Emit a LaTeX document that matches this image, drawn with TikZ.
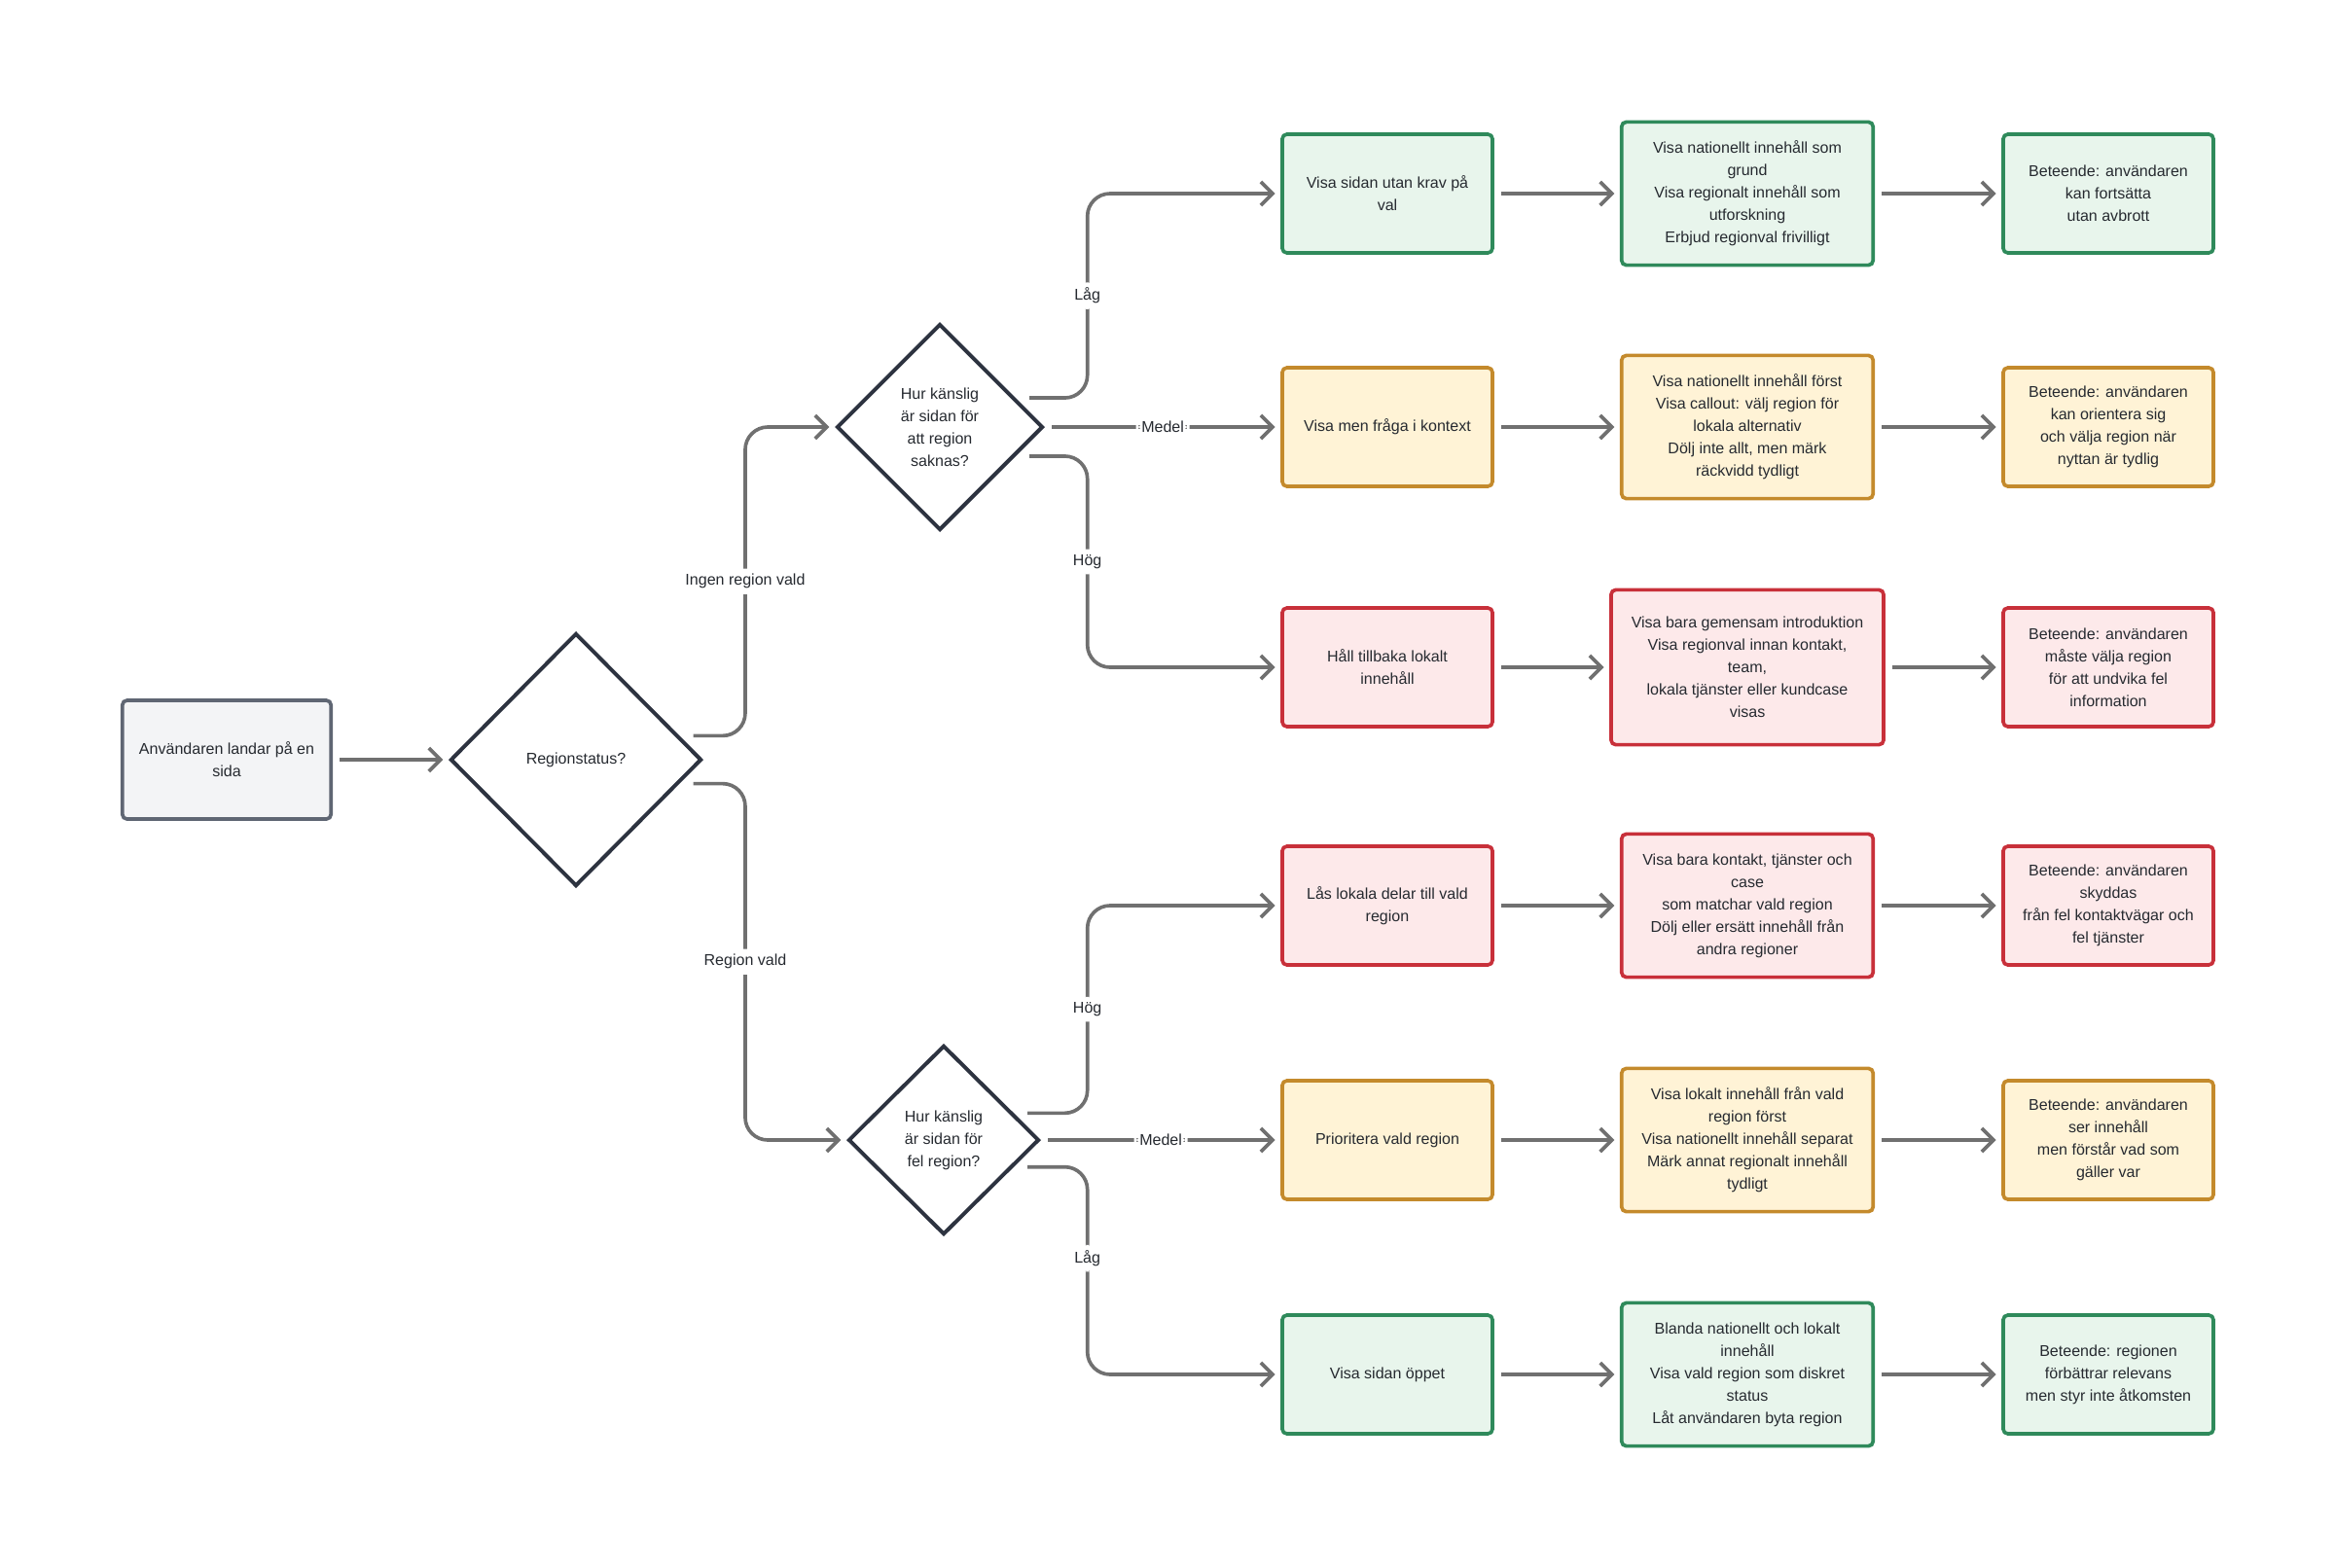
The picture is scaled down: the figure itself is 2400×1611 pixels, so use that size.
\documentclass[tikz,border=0pt]{standalone}
\usepackage{fontspec}
\setmainfont{Liberation Sans}
\usepackage{xcolor}
\usetikzlibrary{shapes.geometric,arrows.meta}

\definecolor{grnfill}{HTML}{E8F5EC}
\definecolor{grnline}{HTML}{2F8A5B}
\definecolor{ylwfill}{HTML}{FFF3D6}
\definecolor{ylwline}{HTML}{C48A2C}
\definecolor{redfill}{HTML}{FDE9EA}
\definecolor{redline}{HTML}{C8303A}
\definecolor{gryfill}{HTML}{F3F4F6}
\definecolor{gryline}{HTML}{5F6673}
\definecolor{dialine}{HTML}{2D3340}
\definecolor{linkgray}{HTML}{707070}
\definecolor{txt}{HTML}{262A30}

\begin{document}
\begin{tikzpicture}[x=0.0125cm, y=-0.0125cm,
    every node/.style={font=\fontsize{5.7}{8.15}\selectfont, text=txt},
    box/.style={rectangle, rounded corners=0.06cm, line width=1.3pt, align=center,
      minimum width=2.7cm, minimum height=1.525cm, inner sep=2pt},
    wide/.style={minimum width=3.23cm, minimum height=1.84cm},
    ok/.style={box, draw=grnline, fill=grnfill},
    mid/.style={box, draw=ylwline, fill=ylwfill},
    risk/.style={box, draw=redline, fill=redfill},
    dec/.style={diamond, draw=dialine, fill=white, line width=1.4pt, align=center, inner sep=0pt},
    link/.style={draw=linkgray, line width=1.3pt, rounded corners=0.29cm,
      -{Straight Barb[length=0.15cm, width=0.3cm]}, shorten <=2.5pt, shorten >=2pt},
    side/.style={link, shorten <=5pt},
    lbl/.style={fill=white, inner sep=2pt}]
  \useasboundingbox (0,0) rectangle (2400,1611);

  % start and first question
  \node[box, draw=gryline, fill=gryfill, minimum width=2.68cm] (start) at (233,781) {Användaren landar på en\\sida};
  \node[dec, minimum width=3.225cm, minimum height=3.25cm] (status) at (592,781) {Regionstatus?};
  \node[dec, minimum width=2.65cm, minimum height=2.65cm] (qnone) at (966,439) {Hur känslig\\är sidan för\\att region\\saknas?};
  \node[dec, minimum width=2.45cm, minimum height=2.43cm] (qwrong) at (970,1172) {Hur känslig\\är sidan för\\fel region?};

  % ingen region vald
  \node[ok] (a1) at (1426,199) {Visa sidan utan krav på\\val};
  \node[mid] (a2) at (1426,439) {Visa men fråga i kontext};
  \node[risk] (a3) at (1426,686) {Håll tillbaka lokalt\\innehåll};
  \node[ok, wide] (b1) at (1796,199) {Visa nationellt innehåll som\\grund\\Visa regionalt innehåll som\\utforskning\\Erbjud regionval frivilligt};
  \node[mid, wide] (b2) at (1796,439) {Visa nationellt innehåll först\\Visa callout: välj region för\\lokala alternativ\\Dölj inte allt, men märk\\räckvidd tydligt};
  \node[risk, wide, minimum width=3.5cm, minimum height=1.99cm] (b3) at (1796,686) {Visa bara gemensam introduktion\\Visa regionval innan kontakt,\\team,\\lokala tjänster eller kundcase\\visas};
  \node[ok] (c1) at (2167,199) {Beteende: användaren\\kan fortsätta\\utan avbrott};
  \node[mid] (c2) at (2167,439) {Beteende: användaren\\kan orientera sig\\och välja region när\\nyttan är tydlig};
  \node[risk] (c3) at (2167,686) {Beteende: användaren\\måste välja region\\för att undvika fel\\information};

  % region vald
  \node[risk] (a4) at (1426,931) {Lås lokala delar till vald\\region};
  \node[mid] (a5) at (1426,1172) {Prioritera vald region};
  \node[ok] (a6) at (1426,1413) {Visa sidan öppet};
  \node[risk, wide] (b4) at (1796,931) {Visa bara kontakt, tjänster och\\case\\som matchar vald region\\Dölj eller ersätt innehåll från\\andra regioner};
  \node[mid, wide] (b5) at (1796,1172) {Visa lokalt innehåll från vald\\region först\\Visa nationellt innehåll separat\\Märk annat regionalt innehåll\\tydligt};
  \node[ok, wide] (b6) at (1796,1413) {Blanda nationellt och lokalt\\innehåll\\Visa vald region som diskret\\status\\Låt användaren byta region};
  \node[risk] (c4) at (2167,931) {Beteende: användaren\\skyddas\\från fel kontaktvägar och\\fel tjänster};
  \node[mid] (c5) at (2167,1172) {Beteende: användaren\\ser innehåll\\men förstår vad som\\gäller var};
  \node[ok] (c6) at (2167,1413) {Beteende: regionen\\förbättrar relevans\\men styr inte åtkomsten};

  % connectors
  \draw[link] (start) -- (status);
  \draw[side] (status.13) -| node[lbl, pos=.75] (tnone) {Ingen region vald} ([xshift=-1.15cm]qnone.west) -- (qnone.west);
  \draw[side] (status.-13) -| node[lbl, pos=.75] (tchosen) {Region vald} ([xshift=-1.3cm]qwrong.west) -- (qwrong.west);

  \draw[side] (qnone.21) -| node[lbl, pos=.75] (tlow1) {Låg} ([xshift=-2.48cm]a1.west) -- (a1.west);
  \draw[link] (qnone) -- node[lbl] (tmed1) {Medel} (a2);
  \draw[side] (qnone.-21) -| node[lbl, pos=.75] (thigh1) {Hög} ([xshift=-2.48cm]a3.west) -- (a3.west);

  \draw[side] (qwrong.21) -| node[lbl, pos=.75] (thigh2) {Hög} ([xshift=-2.48cm]a4.west) -- (a4.west);
  \draw[link] (qwrong) -- node[lbl] (tmed2) {Medel} (a5);
  \draw[side] (qwrong.-21) -| node[lbl, pos=.72] (tlow2) {Låg} ([xshift=-2.48cm]a6.west) -- (a6.west);

  \foreach \i in {1,...,6} {
    \draw[link] (a\i) -- (b\i);
    \draw[link] (b\i) -- (c\i);
  }
\end{tikzpicture}
\end{document}
